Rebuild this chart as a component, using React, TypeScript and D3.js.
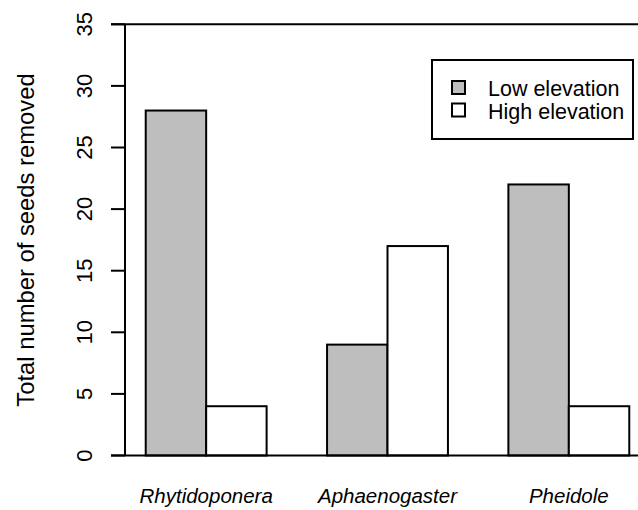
import React from "react";
import * as d3 from "d3";

const categories = ["Rhytidoponera", "Aphaenogaster", "Pheidole"];
const seriesNames = ["Low elevation", "High elevation"];
const lowValues = [28, 9, 22];
const highValues = [4, 17, 4];
const yTicks = [0, 5, 10, 15, 20, 25, 30, 35];
const yLabel = "Total number of seeds removed";

const W = 638;
const H = 510;
const FONT = "'Liberation Sans', Arial, sans-serif";
const GRAY = "#bebebe";

export default function App() {
  const y = d3.scaleLinear().domain([0, 35]).range([455.5, 24.3]);
  const x = d3
    .scaleBand<string>()
    .domain(categories)
    .range([115.5, 659.5])
    .paddingInner(1 / 3)
    .paddingOuter(1 / 6);
  const xs = d3
    .scaleBand<string>()
    .domain(seriesNames)
    .range([0, x.bandwidth()]);
  const fills = [GRAY, "#ffffff"];
  const series = [lowValues, highValues];
  const axisX = 125;

  return (
    <svg
      width={W}
      height={H}
      style={{ position: "absolute", left: 0, top: 0, background: "#fff" }}
      fontFamily={FONT}
    >
      {categories.map((c, i) => (
        <g key={c}>
          {seriesNames.map((s, j) => {
            const v = series[j][i];
            return (
              <rect
                key={s}
                x={(x(c) as number) + (xs(s) as number)}
                y={y(v)}
                width={xs.bandwidth()}
                height={y(0) - y(v)}
                fill={fills[j]}
                stroke="#000"
                strokeWidth={2}
              />
            );
          })}
          <text
            x={(x(c) as number) + x.bandwidth() / 2}
            y={503}
            fontSize={20.5}
            fontStyle="italic"
            textAnchor="middle"
            fill="#000"
          >
            {c}
          </text>
        </g>
      ))}
      {[0, 35].map((v) => (
        <line key={v} x1={111} x2={W} y1={y(v)} y2={y(v)} stroke="#000" strokeWidth={2} />
      ))}
      <line x1={axisX} x2={axisX} y1={y(35)} y2={y(0)} stroke="#000" strokeWidth={2} />
      {yTicks.map((t) => (
        <g key={t}>
          <line x1={111} x2={axisX} y1={y(t)} y2={y(t)} stroke="#000" strokeWidth={2} />
          <text
            transform={`translate(92,${y(t)}) rotate(-90)`}
            fontSize={22}
            textAnchor="middle"
            fill="#000"
          >
            {t}
          </text>
        </g>
      ))}
      <text
        transform={`translate(33.5,240) rotate(-90)`}
        fontSize={23.8}
        textAnchor="middle"
        fill="#000"
      >
        {yLabel}
      </text>
      <rect x={432} y={60} width={201} height={79} fill="#fff" stroke="#000" strokeWidth={2} />
      {seriesNames.map((s, j) => (
        <g key={s}>
          <rect
            x={452}
            y={81 + j * 22.5}
            width={13}
            height={13}
            fill={fills[j]}
            stroke="#000"
            strokeWidth={2}
          />
          <text x={488} y={95.5 + j * 23} fontSize={21.5} fill="#000">
            {s}
          </text>
        </g>
      ))}
    </svg>
  );
}
